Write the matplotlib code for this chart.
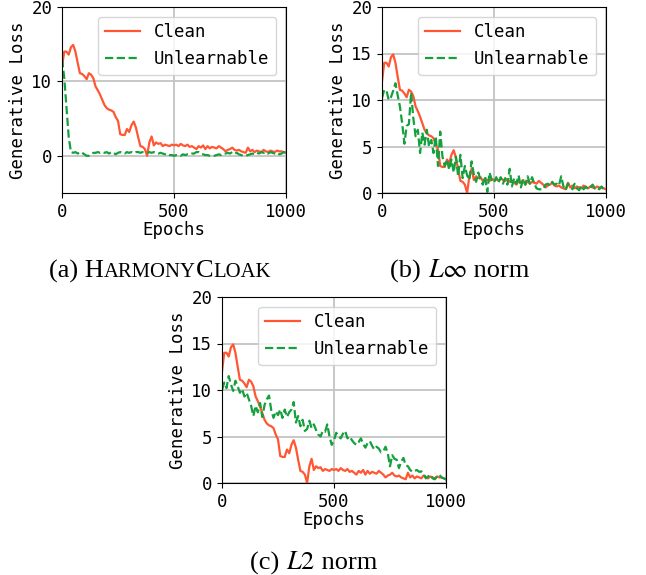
import numpy as np
import matplotlib
matplotlib.use("Agg")
import matplotlib.pyplot as plt
from matplotlib.offsetbox import TextArea, HPacker, AnchoredOffsetbox

# epochs sampled every 10
epochs = np.arange(0, 1001, 10)

clean = [12.0, 14.0, 14.0, 13.6, 14.6, 14.9, 14.0, 12.5, 11.1, 11.0,
         10.7, 10.3, 11.1, 10.9, 10.4, 9.3, 8.8, 8.2, 7.5, 6.8,
         6.4, 6.2, 6.1, 5.9, 5.2, 4.7, 2.9, 2.8, 2.8, 3.6,
         3.2, 4.1, 4.6, 3.8, 2.5, 1.3, 1.2, 0.9, 0.0, 1.8,
         2.6, 1.4, 1.8, 1.6, 1.7, 1.3, 1.5, 1.4, 1.3, 1.5,
         1.4, 1.5, 1.3, 1.6, 1.4, 1.3, 1.5, 1.2, 1.3, 1.1,
         0.9, 1.3, 1.1, 1.4, 0.9, 1.3, 1.0, 1.2, 1.1, 1.0,
         1.3, 1.1, 0.9, 0.6, 0.8, 0.9, 1.1, 0.8, 0.7, 0.8,
         0.6, 0.5, 0.4, 1.1, 0.6, 0.8, 0.5, 0.7, 0.6, 0.5,
         0.8, 0.6, 0.5, 0.7, 0.6, 0.5, 0.7, 0.6, 0.6, 0.5,
         0.4]

unl_harmony = [13.0, 10.5, 6.5, 2.5, 0.5, 0.4, 0.5, 0.3, 0.5, 0.4,
               0.2, 0.0, 0.0, 0.2, 0.4, 0.4, 0.5, 0.4, 0.5, 0.4,
               0.5, 0.3, 0.5, 0.4, 0.2, 0.4, 0.5, 0.4, 0.3, 0.5,
               0.4, 0.5, 0.4, 0.5, 0.5, 0.4, 0.5, 0.5, 0.4, 0.5,
               0.4, 0.5, 0.4, 0.3, 0.4, 0.3, 0.2, 0.3, 0.1, 0.1,
               0.0, 0.1, 0.1, 0.0, 0.2, 0.1, 0.2, 0.2, 0.3, 0.3,
               0.5, 0.5, 0.3, 0.2, 0.1, 0.1, 0.0, 0.0, 0.0, 0.1,
               0.2, 0.1, 0.3, 0.3, 0.4, 0.3, 0.5, 0.3, 0.4, 0.2,
               0.1, 0.0, 0.0, 0.1, 0.2, 0.3, 0.2, 0.4, 0.3, 0.5,
               0.4, 0.5, 0.3, 0.5, 0.4, 0.3, 0.4, 0.2, 0.3, 0.5,
               0.4]

unl_linf = [10.2, 11.1, 11.0, 10.0, 10.3, 11.0, 11.8, 10.5, 9.3, 7.5,
            5.3, 7.2, 7.4, 10.8, 8.0, 6.1, 6.8, 4.3, 6.5, 5.2,
            6.8, 5.0, 5.7, 4.3, 6.1, 2.9, 6.6, 3.9, 2.9, 3.6,
            2.5, 3.6, 2.2, 3.9, 1.8, 4.1, 1.6, 2.9, 1.9, 1.4,
            3.4, 2.0, 1.2, 2.2, 1.4, 0.9, 1.8, 0.1, 2.2, 1.4,
            1.1, 1.7, 1.1, 1.7, 1.0, 1.6, 0.9, 2.6, 0.7, 1.6,
            1.0, 1.9, 0.6, 1.5, 0.9, 1.8, 1.0, 1.7, 1.0, 0.5,
            0.4, 0.4, 0.4, 0.9, 1.0, 0.8, 1.2, 0.9, 1.0, 0.8,
            1.8, 0.7, 0.3, 1.0, 0.8, 0.4, 1.0, 0.5, 0.3, 0.8,
            0.4, 0.7, 0.4, 0.6, 0.9, 0.5, 0.6, 0.4, 0.7, 0.4,
            0.5]

unl_l2 = [10.0, 10.8, 10.2, 11.5, 10.6, 9.9, 11.0, 10.4, 9.7, 10.1,
          9.3, 9.7, 9.0, 8.3, 7.2, 8.3, 7.6, 8.6, 7.1, 8.4,
          9.0, 9.4, 7.8, 7.0, 7.7, 7.3, 7.9, 7.0, 7.9, 7.1,
          7.6, 7.9, 8.7, 6.5, 7.2, 6.1, 6.8, 5.6, 5.8, 6.7,
          5.9, 6.3, 5.7, 5.2, 5.0, 5.6, 5.5, 6.3, 5.0, 4.1,
          4.6, 5.4, 5.0, 4.8, 5.3, 5.6, 4.8, 5.0, 4.6, 4.3,
          4.1, 4.4, 4.8, 4.2, 3.8, 4.3, 4.5, 4.0, 3.6, 3.9,
          3.7, 3.3, 3.4, 3.9, 3.2, 1.8, 3.0, 2.6, 2.5, 1.6,
          2.3, 2.7, 1.9, 1.8, 1.4, 1.2, 1.3, 1.4, 1.2, 1.25,
          1.0, 0.5, 0.7, 0.9, 0.5, 0.4, 0.7, 0.9, 0.6, 0.5,
          0.4]

plt.rcParams['font.family'] = 'DejaVu Sans Mono'
plt.rcParams['font.size'] = 12.5
plt.rcParams['mathtext.fontset'] = 'stix'

red = '#ff5733'
green = '#14a03c'

fig = plt.figure(figsize=(6.46, 5.75), dpi=100)
W, H = 646, 575


def make_axes(left, top, unl, ylim, yticks):
    ax = fig.add_axes([left / W, 1 - (top + 186) / H, 224 / W, 186 / H])
    ax.plot(epochs, clean, color=red, lw=1.6, label='Clean')
    ax.plot(epochs, unl, color=green, lw=1.6, ls='--', label='Unlearnable')
    ax.set_xlim(0, 1000)
    ax.set_ylim(*ylim)
    ax.set_xticks([0, 500, 1000])
    ax.set_yticks(yticks)
    ax.grid(True, color='#c4c4c4', lw=1.3)
    ax.set_axisbelow(True)
    ax.set_xlabel('Epochs', labelpad=0)
    ax.set_ylabel('Generative Loss', labelpad=3)
    ax.legend(loc='upper right', fontsize=12.5, handlelength=2.0,
              borderaxespad=0.55)
    return ax


make_axes(62, 7, unl_harmony, (-5, 20), [0, 10, 20])
make_axes(382, 7, unl_linf, (0, 20), [0, 5, 10, 15, 20])
make_axes(222, 297, unl_l2, (0, 20), [0, 5, 10, 15, 20])

# captions (serif, small caps built from two sizes)
serif = 'Liberation Serif'
cap = 19
small = cap * 0.78


def caption(cx, cy, pieces):
    areas = [TextArea(s, textprops=dict(fontsize=sz, family=serif))
             for s, sz in pieces]
    box = HPacker(children=areas, align='baseline', pad=0, sep=0)
    anchored = AnchoredOffsetbox(loc='center', child=box, pad=0, borderpad=0,
                                 frameon=False, bbox_to_anchor=(cx / W, 1 - cy / H),
                                 bbox_transform=fig.transFigure)
    fig.add_artist(anchored)


caption(160, 271, [('(a) H', cap), ('ARMONY', small),
                   ('C', cap), ('LOAK', small)])
caption(460, 271, [('(b) ', cap), (r'$L\infty$', cap), (' norm', cap)])
caption(314, 563, [('(c) ', cap), (r'$L2$', cap), (' norm', cap)])

fig.savefig('out.png', dpi=100)
